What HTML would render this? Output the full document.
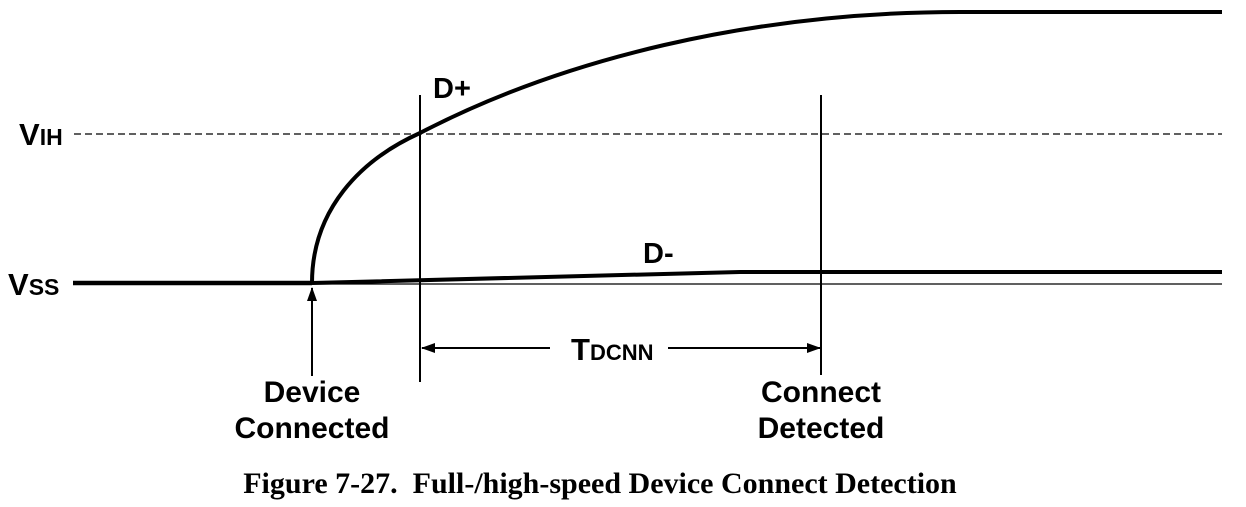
<!DOCTYPE html>
<html><head><meta charset="utf-8"><style>
html,body{margin:0;padding:0;background:#fff;}
svg{display:block}
text{font-family:"Liberation Sans",Arial,sans-serif;font-weight:bold;fill:#000}
</style></head><body>
<svg width="1246" height="507" viewBox="0 0 1246 507" xmlns="http://www.w3.org/2000/svg">
<defs>
<marker id="ah" markerWidth="14" markerHeight="10" refX="13" refY="5" orient="auto" markerUnits="userSpaceOnUse">
<path d="M0,0 L14,5 L0,10 Z" fill="#000"/></marker>
</defs>
<line x1="74" y1="134" x2="1222" y2="134" stroke="#000" stroke-width="1.3" stroke-dasharray="7,4"/>
<line x1="73" y1="283" x2="312" y2="283" stroke="#000" stroke-width="4.5"/>
<line x1="312" y1="284" x2="1222" y2="284" stroke="#000" stroke-width="1.2"/>
<path d="M312,283 L740,272 L1222,272" fill="none" stroke="#000" stroke-width="4"/>
<path d="M312,283 C312,210 360,160 420,133 C560,60 750,12 960,12 L1222,12" fill="none" stroke="#000" stroke-width="4"/>
<line x1="420" y1="95" x2="420" y2="382" stroke="#000" stroke-width="2"/>
<line x1="821" y1="95" x2="821" y2="375" stroke="#000" stroke-width="2"/>
<line x1="550" y1="348" x2="422" y2="348" stroke="#000" stroke-width="2" marker-end="url(#ah)"/>
<line x1="668" y1="348" x2="820" y2="348" stroke="#000" stroke-width="2" marker-end="url(#ah)"/>
<text x="571" y="360" font-size="31">T<tspan font-size="22">DCNN</tspan></text>
<line x1="312" y1="376" x2="312" y2="288" stroke="#000" stroke-width="2" marker-end="url(#ah)"/>
<text x="19" y="145" font-size="31">V<tspan font-size="23">IH</tspan></text>
<text x="8" y="295" font-size="31">V<tspan font-size="23">SS</tspan></text>
<text x="433" y="98" font-size="29">D+</text>
<text x="643" y="263" font-size="29">D-</text>
<text x="312" y="402" font-size="30" text-anchor="middle">Device</text>
<text x="312" y="438" font-size="30" text-anchor="middle">Connected</text>
<text x="821" y="402" font-size="30" text-anchor="middle">Connect</text>
<text x="821" y="438" font-size="30" text-anchor="middle">Detected</text>
<text x="600" y="493" font-size="30" text-anchor="middle" style="font-family:'Liberation Serif',serif">Figure 7-27.&#160; Full-/high-speed Device Connect Detection</text>
</svg>
</body></html>
